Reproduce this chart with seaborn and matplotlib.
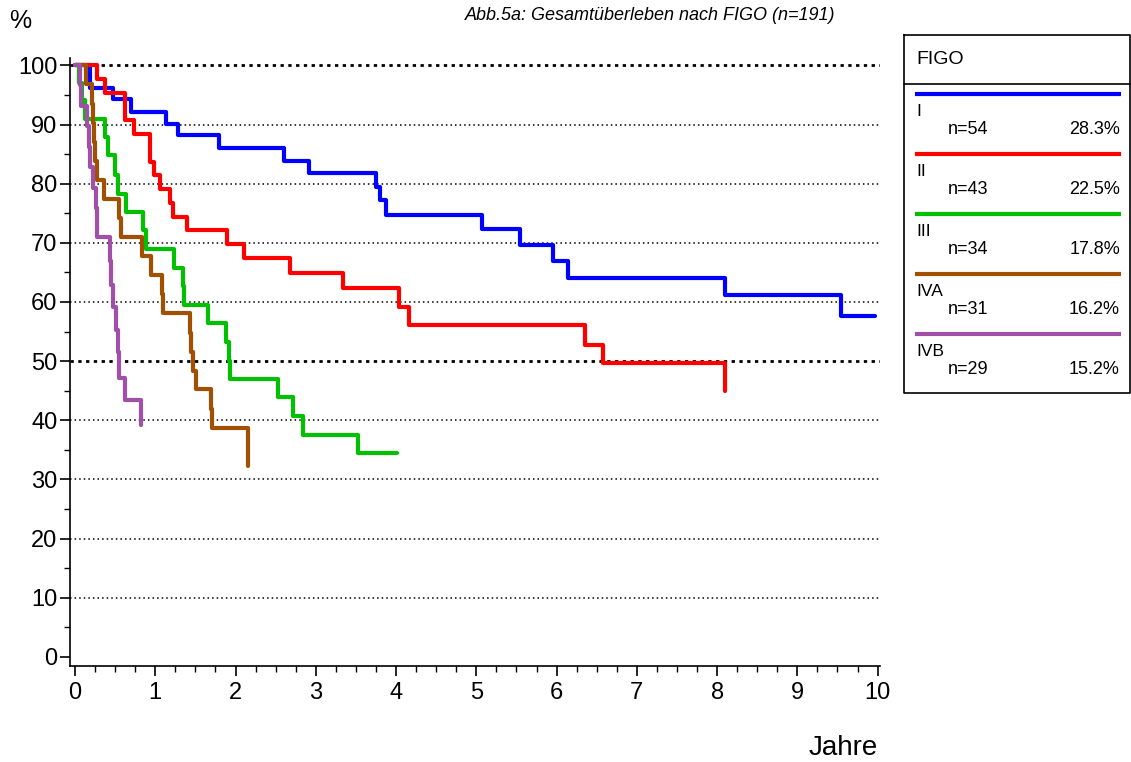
import numpy as np
import pandas as pd
import matplotlib
matplotlib.use("Agg")
import matplotlib.pyplot as plt
import seaborn as sns
from matplotlib.ticker import MultipleLocator

# Kaplan-Meier Stufen je FIGO-Stadium (Jahre, Überleben in %)
figo = ["I", "II", "III", "IVA", "IVB"]
n_pat = [54, 43, 34, 31, 29]
farben = ["#0000FF", "#FF0000", "#00C000", "#A05000", "#A050A8"]

t_I = [0, 0.19, 0.47, 0.70, 1.13, 1.28, 1.80, 2.61, 2.92, 3.75, 3.80, 3.88, 5.07, 5.55, 5.96, 6.14, 8.10, 9.54, 9.97]
s_I = [100, 96.2, 94.3, 92.2, 90.1, 88.2, 86.0, 83.9, 81.8, 79.4, 77.2, 74.7, 72.4, 69.7, 67.0, 64.1, 61.1, 57.7, 57.7]

t_II = [0, 0.27, 0.37, 0.62, 0.74, 0.93, 0.98, 1.06, 1.19, 1.22, 1.40, 1.89, 2.10, 2.68, 3.34, 4.04, 4.16, 6.36, 6.58, 8.10]
s_II = [100, 97.7, 95.3, 90.7, 88.4, 83.7, 81.4, 79.1, 76.7, 74.4, 72.1, 69.8, 67.5, 64.9, 62.3, 59.2, 56.1, 52.8, 49.6, 45.0]

t_III = [0, 0.05, 0.09, 0.13, 0.37, 0.41, 0.50, 0.54, 0.64, 0.85, 0.88, 1.23, 1.35, 1.36, 1.66, 1.88, 1.92, 1.93, 2.53, 2.71, 2.84, 3.52, 4.01]
s_III = [100, 97.1, 94.1, 91.0, 87.9, 84.8, 81.4, 78.3, 75.2, 72.1, 68.9, 65.8, 62.7, 59.5, 56.4, 53.3, 50.1, 47.0, 43.9, 40.7, 37.5, 34.4, 34.4]

t_IVA = [0, 0.14, 0.21, 0.22, 0.24, 0.25, 0.27, 0.36, 0.55, 0.57, 0.83, 0.95, 1.08, 1.10, 1.43, 1.44, 1.47, 1.51, 1.70, 1.71, 2.15, 2.16]
s_IVA = [100, 96.8, 93.5, 90.3, 87.1, 83.9, 80.6, 77.4, 74.2, 71.0, 67.7, 64.5, 61.3, 58.1, 54.8, 51.6, 48.4, 45.2, 41.9, 38.7, 35.5, 32.3]

t_IVB = [0, 0.06, 0.07, 0.15, 0.17, 0.19, 0.22, 0.26, 0.28, 0.44, 0.445, 0.47, 0.51, 0.53, 0.55, 0.62, 0.82]
s_IVB = [100, 96.6, 93.1, 89.7, 86.2, 82.8, 79.3, 75.9, 71.0, 66.9, 62.8, 59.2, 55.2, 51.5, 47.1, 43.4, 39.2]

zeiten = [t_I, t_II, t_III, t_IVA, t_IVB]
werte = [s_I, s_II, s_III, s_IVA, s_IVB]

# long-form Tabelle für seaborn
teile = []
for name, t, s in zip(figo, zeiten, werte):
    teile.append(pd.DataFrame({"Jahre": t, "Ueberleben": s, "FIGO": name}))
df = pd.concat(teile, ignore_index=True)

sns.set_style("white")
plt.rcParams["font.family"] = ["Liberation Sans", "DejaVu Sans"]
plt.rcParams["text.color"] = "black"
plt.rcParams["xtick.color"] = "black"
plt.rcParams["ytick.color"] = "black"

fig = plt.figure(figsize=(11.31, 7.62), dpi=100)
ax = fig.add_axes([0.0619, 0.1264, 0.7162, 0.7971])

# Gitterlinien (100 und 50 etwas kräftiger)
for y in range(10, 101, 10):
    if y in (50, 100):
        ax.axhline(y, color="black", lw=2.0, ls=(0, (1.2, 1.6)), zorder=1)
    else:
        ax.axhline(y, color="black", lw=1.1, ls=(0, (1, 2)), zorder=1)

sns.lineplot(data=df, x="Jahre", y="Ueberleben", hue="FIGO", palette=dict(zip(figo, farben)),
             estimator=None, sort=False, drawstyle="steps-post", linewidth=3.0, legend=False, ax=ax, zorder=3)

ax.set_xlim(-0.062, 10.03)
ax.set_ylim(-1.5, 101.2)
ax.xaxis.set_major_locator(MultipleLocator(1))
ax.xaxis.set_minor_locator(MultipleLocator(0.25))
ax.yaxis.set_major_locator(MultipleLocator(10))
ax.yaxis.set_minor_locator(MultipleLocator(5))
ax.tick_params(axis="both", which="major", direction="out", length=7, width=1.2, labelsize=17,
               color="black", labelcolor="black", pad=2)
ax.tick_params(axis="both", which="minor", direction="out", length=4, width=1.0, color="black")
ax.tick_params(axis="x", which="major", pad=5)
ax.tick_params(left=True, bottom=True, which="both")
ax.set_xlabel("")
ax.set_ylabel("")
sns.despine(ax=ax)
for sp in ["left", "bottom"]:
    ax.spines[sp].set_linewidth(1.2)
    ax.spines[sp].set_color("black")

fig.text(0.575, 0.980, "Abb.5a: Gesamtüberleben nach FIGO (n=191)", style="italic", fontsize=13,
         ha="center", va="center", color="black")
fig.text(0.0177, 0.972, "%", fontsize=18, ha="center", va="center", color="black")
fig.text(0.776, 0.019, "Jahre", fontsize=20, ha="right", va="center", color="black")

# Legende als eigener Kasten (Pixelkoordinaten)
lg = fig.add_axes([903 / 1131, (762 - 394) / 762, 228 / 1131, 360 / 762])
lg.set_xlim(903, 1131)
lg.set_ylim(394, 34)
lg.axis("off")
lg.plot([904, 1130, 1130, 904, 904], [35, 35, 393, 393, 35], color="black", lw=1.2)
lg.plot([904, 1130], [84, 84], color="black", lw=1.2)
lg.text(916, 60, "FIGO", fontsize=14, va="center", ha="left", color="black")
gesamt = sum(n_pat)
for i, (name, n, c) in enumerate(zip(figo, n_pat, farben)):
    y0 = 94 + 60 * i
    lg.plot([915, 1121], [y0, y0], color=c, lw=3.0, solid_capstyle="butt")
    lg.text(916, y0 + 17, name, fontsize=12.5, va="center", ha="left", color="black")
    lg.text(948, y0 + 35, f"n={n}", fontsize=13, va="center", ha="left", color="black")
    lg.text(1120, y0 + 35, f"{100 * n / gesamt:.1f}%", fontsize=13, va="center", ha="right", color="black")

fig.savefig("out.png", dpi=100)
